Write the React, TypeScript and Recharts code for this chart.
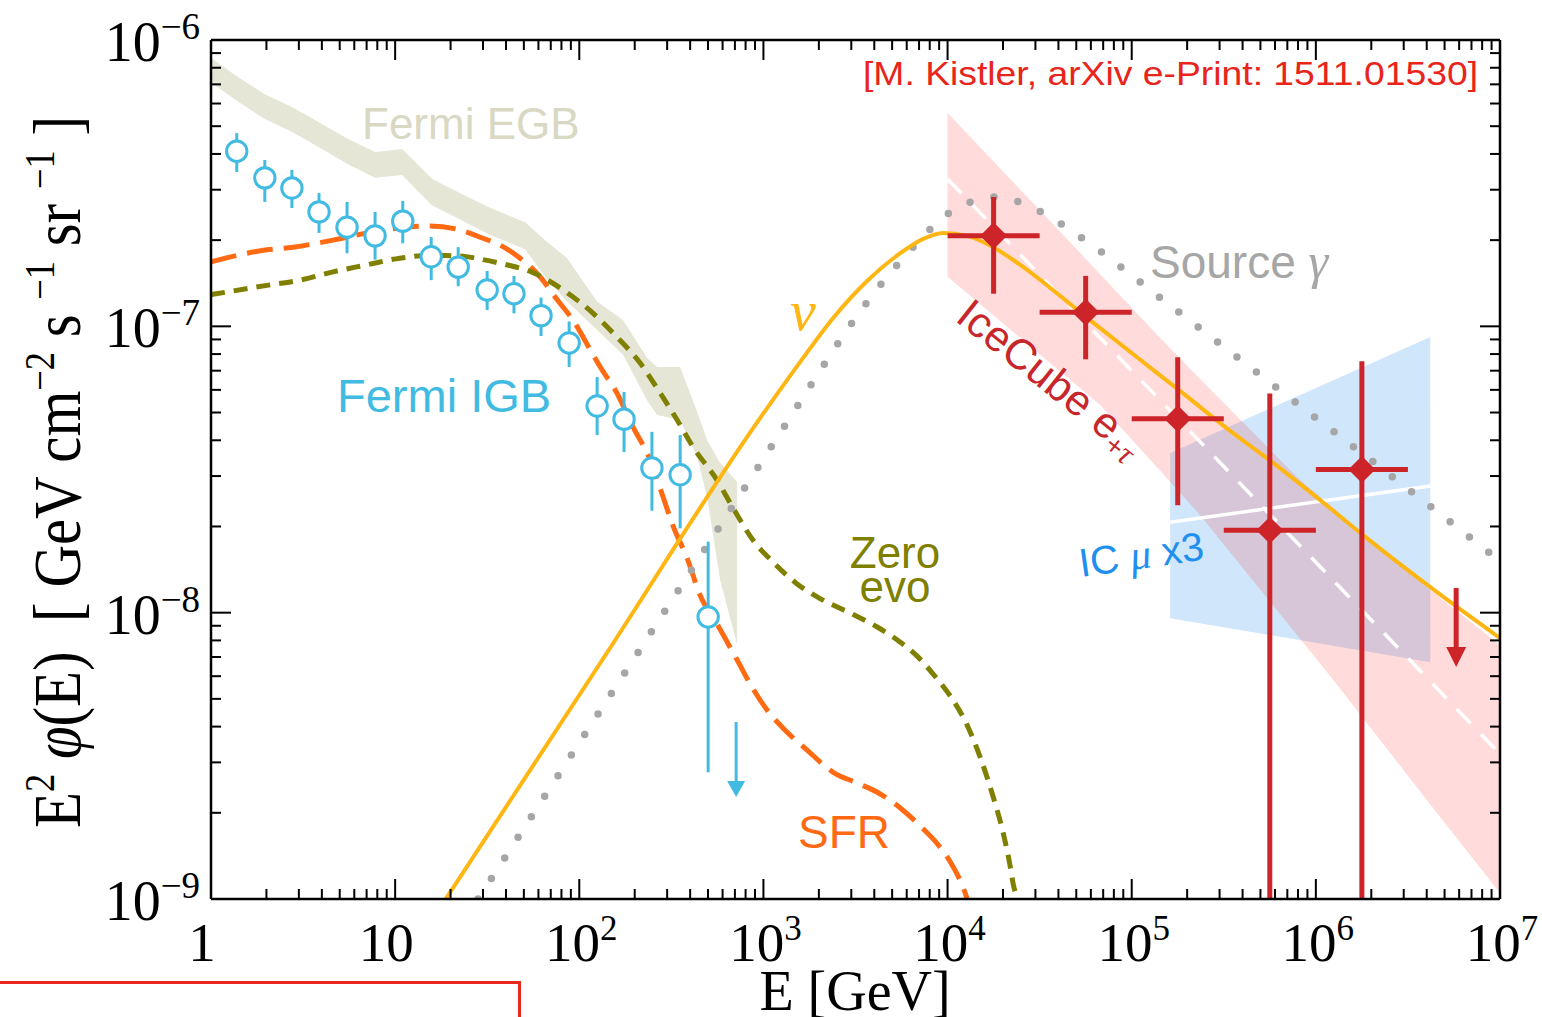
import React from 'react';
import { ComposedChart, XAxis, YAxis, Area, Line, Scatter, ErrorBar } from 'recharts';

const W = 1542;
const H = 1017;
const SERIF = '"Liberation Serif", "Times New Roman", Times, serif';
const SANS = '"Liberation Sans", Arial, Helvetica, sans-serif';

// ---------- axes ----------
const xDecades = [0, 1, 2, 3, 4, 5, 6, 7];
const xTickBase = ['1', '10', '10', '10', '10', '10', '10', '10'];
const xTickExp = ['', '', '2', '3', '4', '5', '6', '7'];
const yDecades = [-9, -8, -7, -6];
const yTickBase = ['10', '10', '10', '10'];
const yTickExp = ['\u22129', '\u22128', '\u22127', '\u22126'];
const minorMultipliers = [2, 3, 4, 5, 6, 7, 8, 9];

// ---------- Fermi EGB band ----------
const egbE = [1.0, 1.4, 1.96, 2.75, 3.81, 5.55, 7.78, 10.9, 15.9, 22.0, 32.0, 50.8, 65.2, 85.9, 125, 173, 234, 265, 353, 437, 494, 582, 720];
const egbHigh = [8.65e-7, 7.43e-7, 6.47e-7, 5.83e-7, 5.18e-7, 4.51e-7, 4.06e-7, 4.16e-7, 3.27e-7, 2.94e-7, 2.61e-7, 2.31e-7, 2.0e-7, 1.73e-7, 1.22e-7, 1.05e-7, 7.74e-8, 7.21e-8, 7.21e-8, 5.02e-8, 4.01e-8, 3.33e-8, 2.86e-8];
const egbLow = [7.1e-7, 6.1e-7, 5.3e-7, 4.78e-7, 4.24e-7, 3.68e-7, 3.3e-7, 3.38e-7, 2.64e-7, 2.38e-7, 2.1e-7, 1.86e-7, 1.49e-7, 1.22e-7, 9.7e-8, 7.95e-8, 5.5e-8, 4.9e-8, 4.71e-8, 3.49e-8, 2.54e-8, 1.3e-8, 7.71e-9];

// ---------- Fermi IGB points ----------
const igbE = [1.38, 1.96, 2.75, 3.86, 5.48, 7.78, 11.0, 15.7, 22.0, 31.6, 44.2, 62.0, 88.1, 125, 175, 248, 353, 501];
const igbFlux = [4.09e-7, 3.3e-7, 3.04e-7, 2.51e-7, 2.22e-7, 2.07e-7, 2.33e-7, 1.75e-7, 1.61e-7, 1.34e-7, 1.3e-7, 1.09e-7, 8.75e-8, 5.27e-8, 4.74e-8, 3.2e-8, 3.03e-8, 9.66e-9];
const igbHigh = [4.73e-7, 3.81e-7, 3.52e-7, 2.92e-7, 2.72e-7, 2.51e-7, 2.74e-7, 2.05e-7, 1.89e-7, 1.56e-7, 1.5e-7, 1.26e-7, 1.04e-7, 6.65e-8, 5.9e-8, 4.28e-8, 4.17e-8, 1.77e-8];
const igbLow = [3.46e-7, 2.72e-7, 2.59e-7, 2.12e-7, 1.8e-7, 1.71e-7, 1.95e-7, 1.45e-7, 1.38e-7, 1.14e-7, 1.11e-7, 9.25e-8, 7.21e-8, 4.17e-8, 3.64e-8, 2.27e-8, 1.97e-8, 2.77e-9];
const igbLimitE = [711];
const igbLimitFlux = [4.15e-9];

// ---------- SFR cascade model ----------
const sfrE = [1, 2.01, 2.79, 4.6, 7.04, 11.6, 15.5, 22.5, 30.0, 37.2, 47.7, 61.2, 75.7, 92.5, 115, 130, 160, 196, 243, 285, 323, 385, 453, 560, 720, 879, 1047, 1279, 1727, 2392, 3228, 4150, 5534, 7096, 8790, 10330, 11700, 12770, 13600];
const sfrFlux = [1.68e-7, 1.85e-7, 1.89e-7, 2.0e-7, 2.12e-7, 2.22e-7, 2.24e-7, 2.17e-7, 2.03e-7, 1.92e-7, 1.73e-7, 1.49e-7, 1.24e-7, 1.05e-7, 8.26e-8, 7.21e-8, 5.85e-8, 4.45e-8, 3.41e-8, 2.54e-8, 2.01e-8, 1.55e-8, 1.15e-8, 9.12e-9, 6.83e-9, 5.41e-9, 4.57e-9, 3.95e-9, 3.31e-9, 2.77e-9, 2.54e-9, 2.36e-9, 2.08e-9, 1.8e-9, 1.56e-9, 1.35e-9, 1.16e-9, 1.0e-9, 8.5e-10];

// ---------- zero-evolution cascade model ----------
const zeroE = [1, 2.01, 3.04, 4.6, 7.04, 10.6, 16.1, 22.5, 30.0, 37.2, 56.1, 85.9, 119, 160, 214, 275, 340, 415, 560, 684, 879, 1130, 1524, 2032, 2958, 4150, 5534, 6839, 8356, 10330, 12770, 15030, 17700, 20050, 21880, 22700, 23880, 25000];
const zeroFlux = [1.29e-7, 1.39e-7, 1.45e-7, 1.55e-7, 1.64e-7, 1.73e-7, 1.77e-7, 1.76e-7, 1.71e-7, 1.66e-7, 1.54e-7, 1.31e-7, 1.11e-7, 9.18e-8, 7.44e-8, 5.85e-8, 4.71e-8, 3.79e-8, 2.9e-8, 2.32e-8, 1.79e-8, 1.5e-8, 1.26e-8, 1.12e-8, 9.97e-9, 8.91e-9, 7.89e-9, 7.05e-9, 6.1e-9, 5.12e-9, 4.05e-9, 3.13e-9, 2.27e-9, 1.7e-9, 1.3e-9, 1.13e-9, 1.0e-9, 8.8e-10];

// ---------- neutrino spectrum ----------
const nuE = [15, 130, 959, 1581, 2392, 3656, 5534, 7370, 9460, 12770, 17700, 24800, 57300, 109900, 185800, 326000, 625000, 1.057e6, 1.855e6, 4.236e6, 1.0e7];
const nuFlux = [8.0e-10, 6.67e-9, 4.78e-8, 7.5e-8, 1.07e-7, 1.44e-7, 1.8e-7, 2.02e-7, 2.12e-7, 2.07e-7, 1.89e-7, 1.64e-7, 1.07e-7, 7.69e-8, 5.9e-8, 4.42e-8, 3.23e-8, 2.47e-8, 1.84e-8, 1.22e-8, 8.15e-9];

// ---------- source gamma-ray spectrum ----------
const srcE = [28.2, 107.5, 410, 1543, 2161, 3034, 4416, 6505, 8147, 10200, 13430, 18150, 24490, 32240, 54550, 144600, 625000, 2.7e6, 9.08e6];
const srcFlux = [1.0e-9, 3.77e-9, 1.42e-8, 5.31e-8, 7.44e-8, 1.03e-7, 1.42e-7, 1.89e-7, 2.2e-7, 2.49e-7, 2.72e-7, 2.83e-7, 2.72e-7, 2.51e-7, 2.02e-7, 1.25e-7, 6.04e-8, 2.93e-8, 1.59e-8];

// ---------- IceCube e+tau fit band ----------
const icBandE = [1e4, 36100, 67400, 142800, 235400, 440300, 822800, 1.244e6, 4.18e6, 1e7];
const icBandHigh = [5.56e-7, 2.33e-7, 1.52e-7, 9.1e-8, 6.55e-8, 4.35e-8, 2.9e-8, 2.32e-8, 1.2e-8, 7.71e-9];
const icBandLow = [1.49e-7, 7.44e-8, 5.31e-8, 3.13e-8, 2.19e-8, 1.33e-8, 8.09e-9, 5.82e-9, 2.14e-9, 1.05e-9];
const icFitE = [1e4, 1e7];
const icFitFlux = [3.27e-7, 3.21e-9];

// ---------- IceCube e+tau data ----------
const icE = [17780, 56230, 177800, 562300, 1778000];
const icELow = [1e4, 31620, 1e5, 316200, 1e6];
const icEHigh = [31620, 1e5, 316200, 1e6, 3162000];
const icFlux = [2.07e-7, 1.12e-7, 4.76e-8, 1.94e-8, 3.16e-8];
const icHigh = [2.83e-7, 1.5e-7, 7.8e-8, 5.83e-8, 7.55e-8];
const icLow = [1.3e-7, 7.67e-8, 2.37e-8, 1.0e-9, 1.0e-9];
const icLimitE = [5.78e6];
const icLimitFlux = [1.22e-8];

// ---------- IceCube muon band (x3) ----------
const muE = [161800, 4.18e6];
const muHigh = [3.61e-8, 9.18e-8];
const muLow = [9.57e-9, 6.71e-9];
const muFit = [2.07e-8, 2.77e-8];

const C = {
  egb: '#e5e6d5',
  egbText: '#d8d8c3',
  igb: '#42bbe3',
  sfr: '#ff6a12',
  zero: '#7f7f00',
  nu: '#ffb612',
  src: '#a6a6a6',
  ic: '#cc2428',
  icText: '#c8262b',
  pinkBase: '#ff0a00',
  muBand: '#d0e6fb',
  muText: '#1f8ff0',
  cite: '#e8241b',
};

// ---------- derived tables ----------
const buildTicks = (decades: number[]) => {
  const out: number[] = [];
  decades.forEach((d, i) => {
    out.push(Math.pow(10, d));
    if (i < decades.length - 1) minorMultipliers.forEach((m) => out.push(m * Math.pow(10, d)));
  });
  return out;
};
const xTicks = buildTicks(xDecades);
const yTicks = buildTicks(yDecades);

const series = (E: number[], v: number[]) => E.map((e, i) => ({ E: e, v: v[i] }));
const band = (E: number[], lo: number[], hi: number[]) => E.map((e, i) => ({ E: e, band: [lo[i], hi[i]] }));

const egbData = band(egbE, egbLow, egbHigh);
const icBandData = band(icBandE, icBandLow, icBandHigh);
const muBandData = band(muE, muLow, muHigh);
const igbData = igbE.map((e, i) => ({ E: e, v: igbFlux[i], ey: [igbFlux[i] - igbLow[i], igbHigh[i] - igbFlux[i]] }));
const icData = icE.map((e, i) => ({
  E: e,
  v: icFlux[i],
  ey: [icFlux[i] - icLow[i], icHigh[i] - icFlux[i]],
  ex: [e - icELow[i], icEHigh[i] - e],
}));

const decadeOf = (v: number) => Math.round(Math.log10(v));
const isMajor = (v: number) => Math.abs(Math.log10(v) - decadeOf(v)) < 1e-6;

const renderXTick = (side: 'bottom' | 'top') => (props: any) => {
  const { x, y, payload } = props;
  const v = payload.value as number;
  const major = isMajor(v);
  const len = major ? 20 : 10;
  const dir = side === 'bottom' ? -1 : 1;
  let label: React.ReactNode = null;
  if (side === 'bottom' && major) {
    const i = xDecades.indexOf(decadeOf(v));
    const exp = xTickExp[i];
    label = (
      <text x={exp ? x + 2 : x - 9} y={y + 62} textAnchor="middle" fontFamily={SERIF} fontSize={55} fill="#000">
        {xTickBase[i]}
        {exp ? (
          <tspan dy={-21} fontSize={35}>
            {exp}
          </tspan>
        ) : null}
      </text>
    );
  }
  return (
    <g>
      <line x1={x} y1={y} x2={x} y2={y + dir * len} stroke="#000" strokeWidth={2} />
      {label}
    </g>
  );
};

const renderYTick = (side: 'left' | 'right') => (props: any) => {
  const { x, y, payload } = props;
  const v = payload.value as number;
  const major = isMajor(v);
  const len = major ? 20 : 10;
  const dir = side === 'left' ? 1 : -1;
  let label: React.ReactNode = null;
  if (side === 'left' && major) {
    const i = yDecades.indexOf(decadeOf(v));
    label = (
      <text x={x - 11} y={y + 21} textAnchor="end" fontFamily={SERIF} fontSize={56} fill="#000">
        {yTickBase[i]}
        <tspan dy={-22} fontSize={37}>
          {yTickExp[i]}
        </tspan>
      </text>
    );
  }
  return (
    <g>
      <line x1={x} y1={y} x2={x + dir * len} y2={y} stroke="#000" strokeWidth={2} />
      {label}
    </g>
  );
};

const igbShape = (p: any) => <circle cx={p.cx} cy={p.cy} r={10.2} fill="#fff" stroke={C.igb} strokeWidth={3} />;
const icShape = (p: any) => (
  <polygon
    points={`${p.cx},${p.cy - 13.5} ${p.cx + 13.5},${p.cy} ${p.cx},${p.cy + 13.5} ${p.cx - 13.5},${p.cy}`}
    fill={C.ic}
  />
);
// upper-limit arrow drawn downward from the limit value
const limitArrow = (color: string, len: number, head: number, half: number, width: number) => (p: any) => {
  const { cx, cy } = p;
  const base = cy + len - head;
  return (
    <g>
      <line x1={cx} y1={cy} x2={cx} y2={base + 1} stroke={color} strokeWidth={width} />
      <polygon points={`${cx - half},${base} ${cx + half},${base} ${cx},${cy + len}`} fill={color} />
    </g>
  );
};

const AXIS_LINE = { stroke: '#000', strokeWidth: 2.5 };
const common = { xAxisId: 'b', yAxisId: 'l', isAnimationActive: false } as const;

const Sup = ({ children }: { children: React.ReactNode }) => (
  <tspan dy={-26} fontSize={42}>
    {children}
  </tspan>
);

export default function App() {
  return (
    <div style={{ position: 'absolute', left: 0, top: 0, width: W, height: H, overflow: 'hidden', background: '#fff' }}>
      <ComposedChart width={W} height={H} margin={{ top: 39, right: 41, bottom: 88, left: 151 }}>
        <XAxis
          xAxisId="b"
          orientation="bottom"
          type="number"
          dataKey="E"
          scale="log"
          domain={[1, 1e7]}
          allowDataOverflow
          ticks={xTicks}
          interval={0}
          height={30}
          tickSize={0}
          tickMargin={0}
          tickLine={false}
          tick={renderXTick('bottom')}
          axisLine={AXIS_LINE}
        />
        <XAxis
          xAxisId="t"
          orientation="top"
          type="number"
          dataKey="E"
          scale="log"
          domain={[1, 1e7]}
          allowDataOverflow
          ticks={xTicks}
          interval={0}
          height={1}
          tickSize={0}
          tickMargin={0}
          tickLine={false}
          tick={renderXTick('top')}
          axisLine={AXIS_LINE}
        />
        <YAxis
          yAxisId="l"
          orientation="left"
          type="number"
          scale="log"
          domain={[1e-9, 1e-6]}
          allowDataOverflow
          ticks={yTicks}
          interval={0}
          width={60}
          tickSize={0}
          tickMargin={0}
          tickLine={false}
          tick={renderYTick('left')}
          axisLine={AXIS_LINE}
        />
        <YAxis
          yAxisId="r"
          orientation="right"
          type="number"
          scale="log"
          domain={[1e-9, 1e-6]}
          allowDataOverflow
          ticks={yTicks}
          interval={0}
          width={1}
          tickSize={0}
          tickMargin={0}
          tickLine={false}
          tick={renderYTick('right')}
          axisLine={AXIS_LINE}
        />

        {/* bands */}
        <Area {...common} data={egbData} dataKey="band" type="linear" stroke="none" fill={C.egb} fillOpacity={1} dot={false} activeDot={false} />
        <Area {...common} data={muBandData} dataKey="band" type="linear" stroke="none" fill={C.muBand} fillOpacity={1} dot={false} activeDot={false} />
        <Area {...common} data={icBandData} dataKey="band" type="linear" stroke="none" fill={C.pinkBase} fillOpacity={0.14} dot={false} activeDot={false} />

        {/* fits inside the bands */}
        <Line {...common} data={series(muE, muFit)} dataKey="v" type="linear" stroke="#fff" strokeWidth={3.5} dot={false} activeDot={false} />
        <Line {...common} data={series(icFitE, icFitFlux)} dataKey="v" type="linear" stroke="#fff" strokeWidth={3.5} strokeDasharray="20 15" dot={false} activeDot={false} />

        {/* model curves */}
        <Line {...common} data={series(sfrE, sfrFlux)} dataKey="v" type="monotone" stroke={C.sfr} strokeWidth={5} strokeDasharray="26 11" dot={false} activeDot={false} />
        <Line {...common} data={series(zeroE, zeroFlux)} dataKey="v" type="monotone" stroke={C.zero} strokeWidth={5} strokeDasharray="14 9" dot={false} activeDot={false} />
        <Line {...common} data={series(srcE, srcFlux)} dataKey="v" type="monotone" stroke={C.src} strokeWidth={7.5} strokeDasharray="0 24.5" strokeLinecap="round" dot={false} activeDot={false} />
        <Line {...common} data={series(nuE, nuFlux)} dataKey="v" type="monotone" stroke={C.nu} strokeWidth={4} dot={false} activeDot={false} />

        {/* Fermi IGB */}
        <Scatter {...common} data={igbData} dataKey="v" shape={igbShape}>
          <ErrorBar dataKey="ey" direction="y" width={0} stroke={C.igb} strokeWidth={3} isAnimationActive={false} />
        </Scatter>
        <Scatter {...common} data={series(igbLimitE, igbLimitFlux)} dataKey="v" shape={limitArrow(C.igb, 75, 16, 9, 3)} />

        {/* IceCube e+tau */}
        <Scatter {...common} data={icData} dataKey="v" shape={icShape}>
          <ErrorBar dataKey="ey" direction="y" width={0} stroke={C.ic} strokeWidth={5} isAnimationActive={false} />
          <ErrorBar dataKey="ex" direction="x" width={0} stroke={C.ic} strokeWidth={5} isAnimationActive={false} />
        </Scatter>
        <Scatter {...common} data={series(icLimitE, icLimitFlux)} dataKey="v" shape={limitArrow(C.ic, 79, 20, 10, 5)} />
      </ComposedChart>

      <svg width={W} height={H} style={{ position: 'absolute', left: 0, top: 0, pointerEvents: 'none' }}>
        <text x={1478} y={85} textAnchor="end" fontFamily={SANS} fontSize={33} fill={C.cite} textLength={615} lengthAdjust="spacingAndGlyphs">
          [M. Kistler, arXiv e-Print: 1511.01530]
        </text>
        <text x={362} y={139} fontFamily={SANS} fontSize={44} fill={C.egbText}>
          Fermi EGB
        </text>
        <text x={337} y={412} fontFamily={SANS} fontSize={47} fill={C.igb}>
          Fermi IGB
        </text>
        <text x={1150} y={278} fontFamily={SANS} fontSize={46} fill={C.src}>
          Source{' '}
          <tspan fontFamily={SERIF} fontStyle="italic" fontSize={50}>
            γ
          </tspan>
        </text>
        <text x={790} y={330} fontFamily={SERIF} fontStyle="italic" fontSize={58} fill={C.nu}>
          ν
        </text>
        <g transform="translate(954,320) rotate(38.5)">
          <text x={0} y={0} fontFamily={SANS} fontSize={43} fill={C.icText}>
            IceCube e
            <tspan dy={8} fontSize={28}>
              +
            </tspan>
            <tspan fontFamily={SERIF} fontStyle="italic" fontSize={32}>
              τ
            </tspan>
          </text>
        </g>
        <g transform="translate(1081,577) rotate(-8)">
          <text x={0} y={0} fontFamily={SANS} fontSize={40} fill={C.muText}>
            IC{' '}
            <tspan fontFamily={SERIF} fontStyle="italic" fontSize={42}>
              μ
            </tspan>{' '}
            x3
          </text>
        </g>
        <text x={895} y={568} textAnchor="middle" fontFamily={SANS} fontSize={44} fill={C.zero}>
          Zero
        </text>
        <text x={895} y={602} textAnchor="middle" fontFamily={SANS} fontSize={44} fill={C.zero}>
          evo
        </text>
        <text x={798} y={848} fontFamily={SANS} fontSize={46} fill={C.sfr}>
          SFR
        </text>

        {/* axis titles */}
        <text x={855} y={1010} textAnchor="middle" fontFamily={SERIF} fontSize={56} fill="#000" style={{ whiteSpace: 'pre' }}>
          E [GeV]
        </text>
        <g transform="translate(80,472) rotate(-90)">
          <text x={0} y={0} textAnchor="middle" fontFamily={SERIF} fontSize={68} fill="#000" style={{ whiteSpace: 'pre' }} textLength={712} lengthAdjust="spacingAndGlyphs">
            <tspan>E</tspan>
            <Sup>2</Sup>
            <tspan dy={26} fontStyle="italic">{' \u03c6'}</tspan>
            <tspan>{'(E)  [ GeV cm'}</tspan>
            <Sup>{'\u22122'}</Sup>
            <tspan dy={26}>{' s '}</tspan>
            <Sup>{'\u22121'}</Sup>
            <tspan dy={26}>{' sr '}</tspan>
            <Sup>{'\u22121'}</Sup>
            <tspan dy={26}>{' ]'}</tspan>
          </text>
        </g>
      </svg>

      <div
        style={{
          position: 'absolute',
          left: -6,
          top: 981,
          width: 527,
          height: 80,
          border: '3px solid #e8281f',
          boxSizing: 'border-box',
        }}
      />
    </div>
  );
}
